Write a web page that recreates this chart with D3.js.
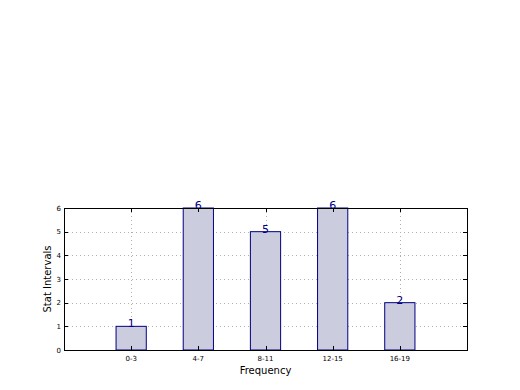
<!DOCTYPE html>
<html lang="en">
<head>
<meta charset="UTF-8" />
<title>Stat Intervals</title>
<style>
    body { margin: 0; background: #fff; }
    svg { display: block; font-family: "DejaVu Sans", sans-serif; }
    .grid line { stroke: #b0b0b0; stroke-width: 1px; stroke-dasharray: 1, 3; }
    .tickLabel { font-size: 7px; fill: #000; }
    .axisLabel { font-size: 10px; fill: #000; }
    .valueLabel { font-size: 11px; fill: #000080; }
</style>
</head>
<body>
<svg width="520" height="390"></svg>
<script src="https://cdnjs.cloudflare.com/ajax/libs/d3/7.9.0/d3.min.js"></script>
<script>
const categories = ["0-3", "4-7", "8-11", "12-15", "16-19"];
const counts = [1, 6, 5, 6, 2];
const yTicks = [0, 1, 2, 3, 4, 5, 6];

const margin = { top: 208, right: 53, bottom: 40, left: 64 };
const width = 520 - margin.left - margin.right;
const height = 390 - margin.top - margin.bottom;
const barWidth = 0.45;

const svg = d3.select("svg")
    .append("g")
    .attr("transform", "translate(" + margin.left + "," + margin.top + ")");

const x = d3.scaleLinear().domain([-1, 5]).range([0, width]);
const y = d3.scaleLinear().domain([0, 6]).range([height, 0]);

// dotted grid
const grid = svg.append("g").attr("class", "grid");
grid.selectAll(".gx").data(categories).enter().append("line")
    .attr("x1", (d, i) => Math.round(x(i)) + 0.5)
    .attr("x2", (d, i) => Math.round(x(i)) + 0.5)
    .attr("y1", 0).attr("y2", height);
grid.selectAll(".gy").data(yTicks.slice(1, -1)).enter().append("line")
    .attr("x1", 0).attr("x2", width)
    .attr("y1", d => Math.round(y(d)) + 0.5)
    .attr("y2", d => Math.round(y(d)) + 0.5);

// bars
svg.selectAll(".bar").data(counts).enter().append("rect")
    .attr("x", (d, i) => x(i - barWidth / 2))
    .attr("y", d => y(d))
    .attr("width", x(barWidth) - x(0))
    .attr("height", d => height - y(d))
    .attr("fill", "#ccccdf")
    .attr("stroke", "#000080")
    .attr("stroke-width", 1);

// value labels
svg.selectAll(".valueLabel").data(counts).enter().append("text")
    .attr("class", "valueLabel")
    .attr("x", (d, i) => x(i))
    .attr("y", d => y(d) + 1)
    .attr("text-anchor", "middle")
    .text(d => d);

// frame
svg.append("rect")
    .attr("x", 0.5).attr("y", 0.5)
    .attr("width", width).attr("height", height)
    .attr("fill", "none").attr("stroke", "#000").attr("stroke-width", 1);

// inward ticks on all sides
const ticks = svg.append("g").attr("stroke", "#000").attr("stroke-width", 1);
categories.forEach((c, i) => {
    const px = Math.round(x(i)) + 0.5;
    ticks.append("line").attr("x1", px).attr("x2", px).attr("y1", height).attr("y2", height - 4);
    ticks.append("line").attr("x1", px).attr("x2", px).attr("y1", 0).attr("y2", 4);
});
yTicks.forEach(t => {
    const py = Math.round(y(t)) + 0.5;
    ticks.append("line").attr("x1", 0).attr("x2", 4).attr("y1", py).attr("y2", py);
    ticks.append("line").attr("x1", width).attr("x2", width - 4).attr("y1", py).attr("y2", py);
});

// tick labels
svg.selectAll(".xt").data(categories).enter().append("text")
    .attr("class", "tickLabel")
    .attr("x", (d, i) => x(i))
    .attr("y", height + 11)
    .attr("text-anchor", "middle")
    .text(d => d);
svg.selectAll(".yt").data(yTicks).enter().append("text")
    .attr("class", "tickLabel")
    .attr("x", -3)
    .attr("y", d => y(d) + 2.5)
    .attr("text-anchor", "end")
    .text(d => d);

// axis labels
svg.append("text").attr("class", "axisLabel")
    .attr("x", width / 2).attr("y", height + 24)
    .attr("text-anchor", "middle").text("Frequency");
svg.append("text").attr("class", "axisLabel")
    .attr("transform", "translate(-13," + height / 2 + ") rotate(-90)")
    .attr("text-anchor", "middle").text("Stat Intervals");
</script>
</body>
</html>
